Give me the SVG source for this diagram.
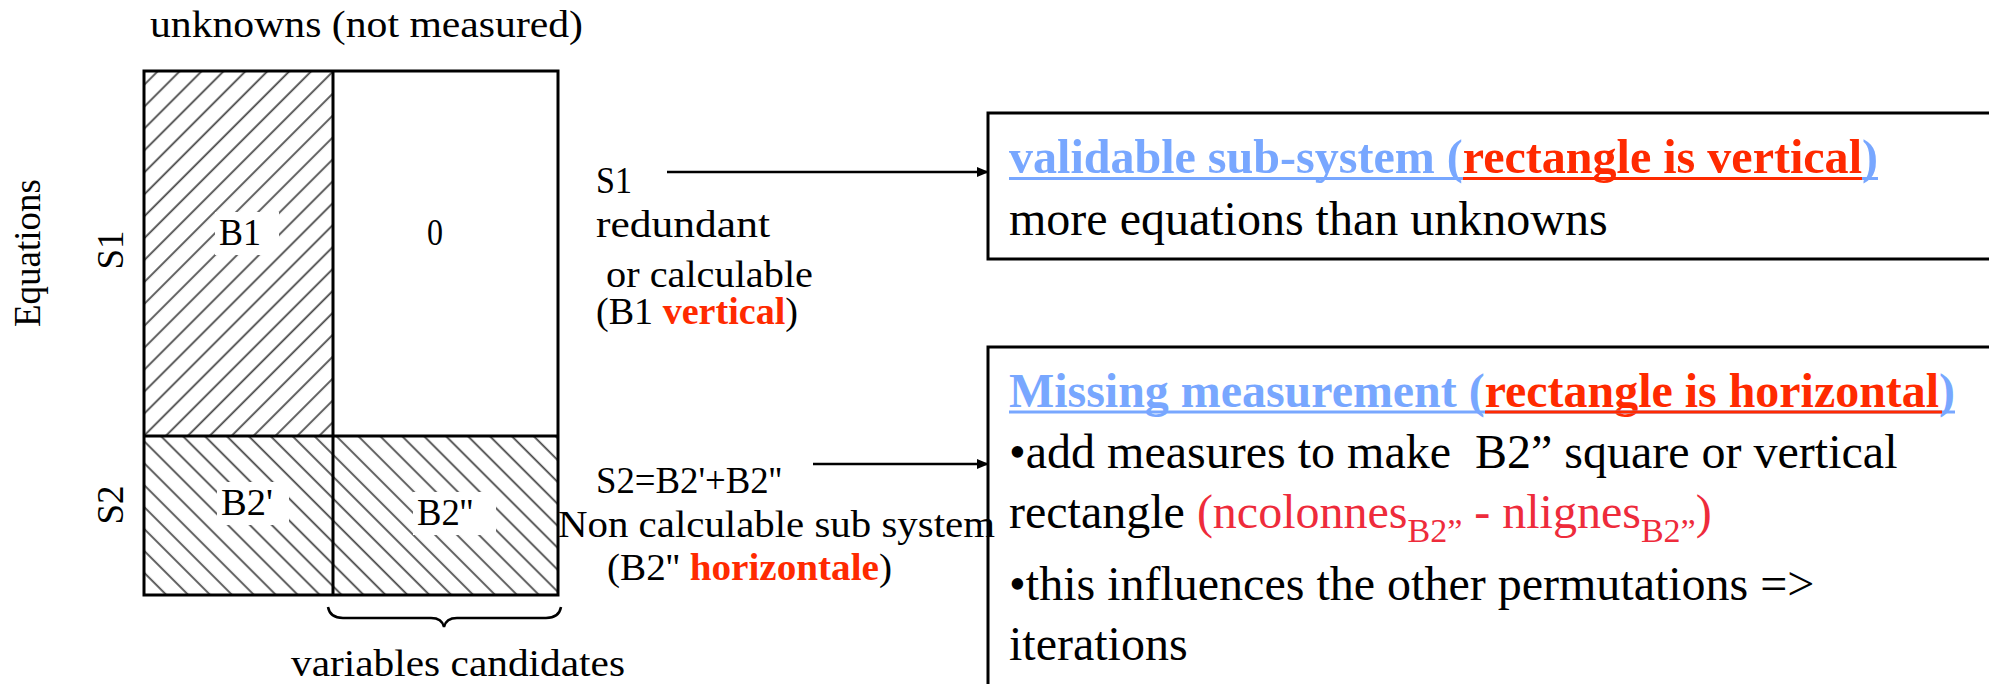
<svg xmlns="http://www.w3.org/2000/svg" width="1989" height="684" viewBox="0 0 1989 684">
<style>
.lbl{font-family:"Liberation Serif","Times New Roman",serif;font-size:37px;fill:#000}
.box{font-family:"Liberation Serif","Times New Roman",serif;font-size:48px;fill:#000}
.redb{fill:#ff2a00;font-weight:bold}
.blue{fill:#78a7ff;font-weight:bold}
.red2{fill:#ee2b3b}
.frame{fill:none;stroke:#000;stroke-width:3}
.conn{stroke:#000;stroke-width:2.5;fill:none}
</style>
<defs>
<pattern id="hatchF" patternUnits="userSpaceOnUse" width="15.5" height="15.5" patternTransform="rotate(45)">
<line x1="7" y1="0" x2="7" y2="15.5" stroke="#4a4a4a" stroke-width="1.8"/>
</pattern>
<pattern id="hatchB" patternUnits="userSpaceOnUse" width="15.5" height="15.5" patternTransform="rotate(-45)">
<line x1="7" y1="0" x2="7" y2="15.5" stroke="#4a4a4a" stroke-width="1.8"/>
</pattern>
<marker id="arrow" markerWidth="12" markerHeight="10" refX="11" refY="5" orient="auto" markerUnits="userSpaceOnUse">
<path d="M0,0 L12,5 L0,10 z" fill="#000"/>
</marker>
</defs>
<rect width="1989" height="684" fill="#fff"/>

<text class="lbl" x="150" y="37" textLength="433" lengthAdjust="spacingAndGlyphs">unknowns (not measured)</text>
<text class="lbl" transform="translate(40,253) rotate(-90)" text-anchor="middle">Equations</text>
<text class="lbl" transform="translate(123,250) rotate(-90)" text-anchor="middle">S1</text>
<text class="lbl" transform="translate(123,505) rotate(-90)" text-anchor="middle">S2</text>

<g id="matrix">
<g id="cell-b1">
<rect x="144" y="71" width="189" height="365" fill="url(#hatchF)"/>
<rect x="215" y="212" width="64" height="43" fill="#fff"/>
<text class="lbl" x="219" y="245" textLength="42" lengthAdjust="spacingAndGlyphs">B1</text>
</g>
<g id="cell-zero">
<text class="lbl" x="427" y="245" textLength="16" lengthAdjust="spacingAndGlyphs">0</text>
</g>
<g id="cell-b2p">
<rect x="144" y="436" width="189" height="159" fill="url(#hatchB)"/>
<rect x="217" y="482" width="72" height="43" fill="#fff"/>
<text class="lbl" x="221" y="515" textLength="52" lengthAdjust="spacingAndGlyphs">B2'</text>
</g>
<g id="cell-b2pp">
<rect x="333" y="436" width="225" height="159" fill="url(#hatchB)"/>
<rect x="413" y="492" width="83" height="43" fill="#fff"/>
<text class="lbl" x="417" y="525" textLength="56" lengthAdjust="spacingAndGlyphs">B2''</text>
</g>
<rect class="frame" x="144" y="71" width="414" height="524"/>
<line x1="333" y1="71" x2="333" y2="595" stroke="#000" stroke-width="3"/>
<line x1="144" y1="436" x2="558" y2="436" stroke="#000" stroke-width="3"/>
<path d="M328,607 Q330,618 343,618 L431,618 Q442,618 444,627 Q446,618 457,618 L546,618 Q559,618 561,607" class="conn"/>
<text class="lbl" x="291" y="676" textLength="334" lengthAdjust="spacingAndGlyphs">variables candidates</text>
</g>

<g id="label-s1">
<text class="lbl" x="596" y="193" textLength="36" lengthAdjust="spacingAndGlyphs">S1</text>
<text class="lbl" x="596" y="237" textLength="174" lengthAdjust="spacingAndGlyphs">redundant</text>
<text class="lbl" x="606" y="287" textLength="207" lengthAdjust="spacingAndGlyphs">or calculable</text>
<text class="lbl" x="596" y="324" textLength="202" lengthAdjust="spacingAndGlyphs">(B1 <tspan class="redb">vertical</tspan>)</text>
</g>

<g id="label-s2">
<text class="lbl" x="596" y="493" textLength="186" lengthAdjust="spacingAndGlyphs">S2=B2'+B2''</text>
<text class="lbl" x="558" y="537" textLength="437" lengthAdjust="spacingAndGlyphs">Non calculable sub system</text>
<text class="lbl" x="607" y="580" textLength="285" lengthAdjust="spacingAndGlyphs">(B2'' <tspan class="redb">horizontale</tspan>)</text>
</g>

<g id="box-validable">
<rect class="frame" x="988" y="113" width="1100" height="146"/>
<text class="box" x="1009" y="173" textLength="869" lengthAdjust="spacingAndGlyphs"><tspan class="blue">validable sub-system (</tspan><tspan class="redb">rectangle is vertical</tspan><tspan class="blue">)</tspan></text>
<line x1="1009" y1="178.5" x2="1878" y2="178.5" stroke="#78a7ff" stroke-width="3"/>
<line x1="1463" y1="178.5" x2="1862" y2="178.5" stroke="#ff2a00" stroke-width="3"/>
<text class="box" x="1009" y="235">more equations than unknowns</text>
</g>

<g id="box-missing">
<rect class="frame" x="988" y="347" width="1100" height="400"/>
<text class="box" x="1009" y="407" textLength="946" lengthAdjust="spacingAndGlyphs"><tspan class="blue">Missing measurement (</tspan><tspan class="redb">rectangle is horizontal</tspan><tspan class="blue">)</tspan></text>
<line x1="1009" y1="412" x2="1955" y2="412" stroke="#78a7ff" stroke-width="3"/>
<line x1="1485" y1="412" x2="1942" y2="412" stroke="#ff2a00" stroke-width="3"/>
<text class="box" x="1009" y="468" xml:space="preserve">•add measures to make  B2” square or vertical</text>
<text class="box" x="1009" y="528">rectangle <tspan class="red2">(ncolonnes<tspan font-size="34" dy="14">B2”</tspan><tspan dy="-14"> - nlignes</tspan><tspan font-size="34" dy="14">B2”</tspan><tspan dy="-14">)</tspan></tspan></text>
<text class="box" x="1009" y="600">•this influences the other permutations =&gt;</text>
<text class="box" x="1009" y="660">iterations</text>
</g>

<g id="connectors">
<line class="conn" x1="667" y1="172" x2="988" y2="172" marker-end="url(#arrow)"/>
<line class="conn" x1="813" y1="464" x2="988" y2="464" marker-end="url(#arrow)"/>
</g>
</svg>
